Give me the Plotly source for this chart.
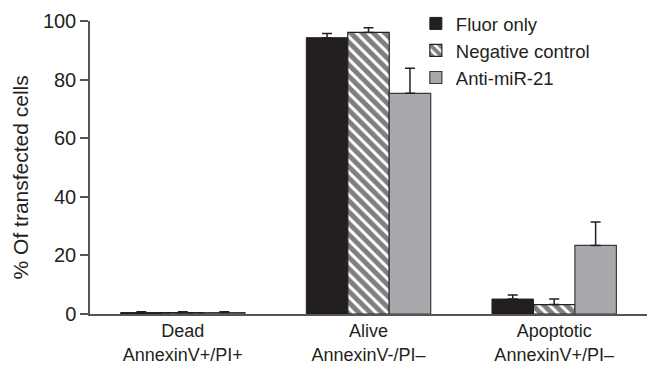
import plotly.graph_objects as go

categories = ["Dead<br>AnnexinV+/PI+", "Alive<br>AnnexinV-/PI\u2013", "Apoptotic<br>AnnexinV+/PI\u2013"]
series_names = ["Fluor only", "Negative control", "Anti-miR-21"]
fluor_only = [0.5, 94.3, 5.1]
fluor_only_err = [0.3, 1.4, 1.4]
negative_control = [0.5, 96.1, 3.2]
negative_control_err = [0.3, 1.6, 1.9]
anti_mir21 = [0.5, 75.3, 23.4]
anti_mir21_err = [0.3, 8.6, 8.0]
y_ticks = [0, 20, 40, 60, 80, 100]

FONT = "Liberation Sans, Arial, Helvetica, sans-serif"
INK = "#231f20"

fig = go.Figure()

def err(arr, color=INK):
    return dict(type="data", symmetric=False, array=arr, arrayminus=[0]*len(arr),
                color=color, thickness=1.5, width=5)

fig.add_trace(go.Bar(
    name=series_names[0], x=categories, y=fluor_only,
    marker=dict(color=INK, line=dict(color=INK, width=1)),
    error_y=err(fluor_only_err),
))
fig.add_trace(go.Bar(
    name=series_names[1], x=categories, y=negative_control,
    marker=dict(color="white", line=dict(color=INK, width=1.2),
                pattern=dict(shape="\\", fgcolor="#000000", bgcolor="white", size=8, solidity=0.62)),
    error_y=err(negative_control_err),
))
fig.add_trace(go.Bar(
    name=series_names[2], x=categories, y=anti_mir21,
    marker=dict(color="#a8a9ac", line=dict(color="#3a3a3a", width=1.2)),
    error_y=err(anti_mir21_err),
))

fig.update_layout(
    width=647, height=367,
    margin=dict(l=90, r=0, t=21, b=53),
    paper_bgcolor="white", plot_bgcolor="white",
    barmode="group", bargap=0.33, bargroupgap=0,
    font=dict(family=FONT, size=18, color=INK),
    showlegend=True,
    legend=dict(x=0.585, y=1.055, xanchor="left", yanchor="top",
                bgcolor="rgba(0,0,0,0)", font=dict(size=18.5, color=INK),
                itemwidth=30, tracegroupgap=0),
    xaxis=dict(showline=True, linecolor="#555555", linewidth=1.5, ticks="",
               tickfont=dict(size=18, color=INK), range=[-0.5, 2.5]),
    yaxis=dict(range=[0, 100], tickvals=y_ticks, showline=True, linecolor="#555555",
               linewidth=1.5, ticks="outside", ticklen=8, tickcolor="#555555",
               tickwidth=1.5, showgrid=False, zeroline=False,
               tickfont=dict(size=20, color=INK)),
    annotations=[dict(text="% Of transfected cells", textangle=-90,
                      xref="paper", yref="paper", x=(20 - 90) / 557, y=0.466,
                      xanchor="center", yanchor="middle", showarrow=False,
                      font=dict(size=21, color=INK))],
)

fig.write_html("out.html")
